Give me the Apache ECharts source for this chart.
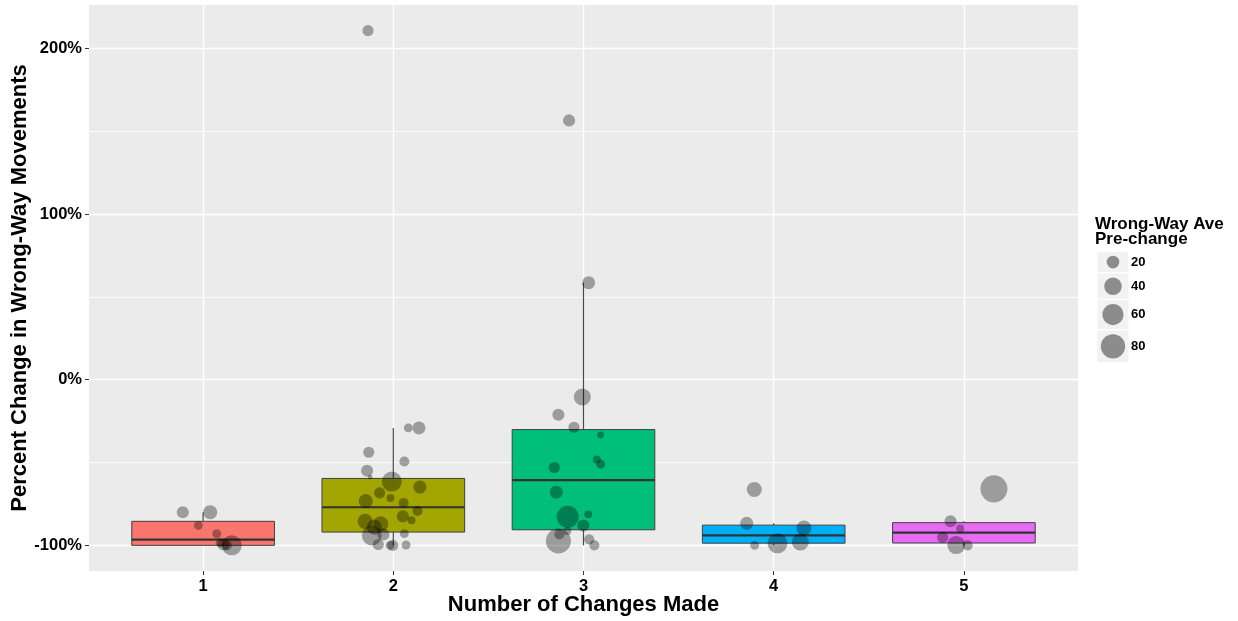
<!DOCTYPE html>
<html><head><meta charset="utf-8">
<script src="https://cdn.jsdelivr.net/npm/echarts@6/dist/echarts.min.js"></script>
<style>html,body{margin:0;padding:0;background:#fff}#c{width:1238px;height:621px}</style>
</head><body><div id="c"></div>
<script>
// ---- data ----
const categories = ['1', '2', '3', '4', '5'];
const yTickLabels = [-100, 0, 100, 200];
const yMinorTicks = [-50, 50, 150];
// box statistics (percent change)
const boxLow  = [-100, -100, -100, -100, -100];
const boxQ1   = [-100, -92, -90.6, -98.7, -98.6];
const boxMed  = [-96.5, -77, -60.6, -94, -92.3];
const boxQ3   = [-85.5, -59.6, -30.1, -87.8, -86.3];
const boxHigh = [-80, -29.1, 58.6, -86.7, -85.5];
// jittered points: x position, percent change, wrong-way average pre-change
const ptX = [
  0.893, 1.037, 0.975, 1.072, 1.090, 1.107, 1.125, 1.151,
  1.867, 2.079, 2.135, 1.871, 2.058, 1.862, 1.878, 1.992, 2.140, 1.928, 1.985, 1.855, 2.054,
  2.127, 2.050, 2.096, 1.852, 1.934, 1.900, 1.887, 1.948, 2.058, 1.921, 1.983, 1.997, 2.067,
  2.924, 3.027, 2.994, 2.868, 2.950, 3.090, 3.070, 3.090, 2.847, 2.857, 2.917, 3.025, 2.999,
  2.915, 2.873, 2.868, 3.030, 3.057,
  3.898, 3.858, 4.159, 3.900, 4.020, 4.140,
  5.158, 4.930, 4.980, 4.888, 4.960, 5.020
];
const ptPct = [
  -80, -80, -88, -93, -98.5, -99.5, -100, -100,
  210.8, -29.1, -29.1, -43.8, -49.4, -55, -58.8, -61.5, -64.8, -68.3, -71.4, -73.3, -74.4,
  -79.2, -82.5, -84.8, -85.5, -87, -89, -94, -93.4, -92.9, -99.5, -100, -100, -99.8,
  156.6, 58.6, -10.4, -21.1, -28.7, -33.3, -48.2, -51, -53, -67.9, -82.7, -81.3, -88,
  -91.4, -93.4, -97.4, -96.4, -100,
  -66.3, -86.7, -89.6, -100, -98.8, -98,
  -65.9, -85.5, -89.8, -95.2, -99.8, -100
];
const ptAve = [
  18, 25, 9, 9, 9, 18, 12, 53,
  15, 9, 21, 15, 12, 18, 2, 53, 21, 15, 7, 25, 12,
  12, 18, 7, 29, 29, 29, 53, 18, 9, 15, 9, 15, 9,
  18, 21, 38, 18, 15, 5, 7, 9, 15, 21, 65, 7, 18,
  7, 12, 85, 12, 12,
  29, 21, 29, 9, 53, 38,
  100, 18, 7, 15, 43, 12
];
const legendValues = [20, 40, 60, 80];

// ---- styling ----
const FONT = "'Liberation Sans', Arial, sans-serif";
const boxColors = ['#F8766D', '#A3A500', '#00BF7D', '#00B0F6', '#E76BF3'];
const ptColor = 'rgba(0,0,0,0.42)';
const sizeFn = w => 1.1 + 2.594 * Math.sqrt(w);

const boxData = categories.map((c, i) => [i + 1, boxLow[i], boxQ1[i], boxMed[i], boxQ3[i], boxHigh[i]]);
const ptData = ptX.map((x, i) => [x, ptPct[i], ptAve[i]]);

function renderBox(params, api) {
  const x = api.value(0), lo = api.value(1), q1 = api.value(2), med = api.value(3), q3 = api.value(4), hi = api.value(5);
  const half = 0.375;
  const tl = api.coord([x - half, q3]);
  const br = api.coord([x + half, q1]);
  const ml = api.coord([x - half, med]), mr = api.coord([x + half, med]);
  const pq3 = api.coord([x, q3]), ph = api.coord([x, hi]), pq1 = api.coord([x, q1]), pl = api.coord([x, lo]);
  const color = boxColors[params.dataIndex];
  const wStyle = { stroke: '#4a4a4a', lineWidth: 1.2 };
  return {
    type: 'group', children: [
      { type: 'line', shape: { x1: pq3[0], y1: pq3[1], x2: ph[0], y2: ph[1] }, style: wStyle },
      { type: 'line', shape: { x1: pq1[0], y1: pq1[1], x2: pl[0], y2: pl[1] }, style: wStyle },
      { type: 'rect', shape: { x: tl[0], y: tl[1], width: br[0] - tl[0], height: br[1] - tl[1] },
        style: { fill: color, stroke: '#404040', lineWidth: 1 } },
      { type: 'line', shape: { x1: ml[0], y1: ml[1], x2: mr[0], y2: mr[1] }, style: { stroke: '#333', lineWidth: 2.2 } }
    ]
  };
}

// legend graphics
const legendGraphics = [
  { type: 'text', left: 1095, top: 216, style: { text: 'Wrong-Way Ave', font: 'bold 17px ' + FONT, fill: '#000' } },
  { type: 'text', left: 1095, top: 231, style: { text: 'Pre-change', font: 'bold 17px ' + FONT, fill: '#000' } }
];
let ky = 252;
legendValues.forEach(v => {
  const d = sizeFn(v);
  const h = d + 7.5;
  legendGraphics.push({ type: 'rect', shape: { x: 1097.5, y: ky, width: 31, height: h }, style: { fill: '#F2F2F2' } });
  legendGraphics.push({ type: 'circle', shape: { cx: 1113, cy: ky + h / 2, r: d / 2 }, style: { fill: ptColor } });
  legendGraphics.push({ type: 'text', x: 1131, y: ky + h / 2, style: { text: String(v), font: 'bold 13px ' + FONT, fill: '#000', textVerticalAlign: 'middle' } });
  ky += h + 1.5;
});

const chart = echarts.init(document.getElementById('c'));
chart.setOption({
  animation: false,
  backgroundColor: '#fff',
  textStyle: { fontFamily: FONT },
  grid: { left: 89, right: 160, top: 5, bottom: 50, show: true, backgroundColor: '#EBEBEB', borderWidth: 0,
    containLabel: false, outerBoundsMode: 'none' },
  xAxis: {
    type: 'value', min: 0.4, max: 5.6,
    name: 'Number of Changes Made', nameLocation: 'middle', nameGap: 23, nameMoveOverlap: false,
    nameTextStyle: { fontSize: 22, fontWeight: 'bold', color: '#000', fontFamily: FONT },
    axisLine: { show: false, onZero: false },
    axisTick: { show: true, length: 4, lineStyle: { color: '#333' }, customValues: [1, 2, 3, 4, 5] },
    axisLabel: { customValues: [1, 2, 3, 4, 5], formatter: v => categories[Math.round(v) - 1],
      fontSize: 16.5, fontWeight: 'bold', color: '#000', margin: 7, fontFamily: FONT },
    splitLine: { show: true, lineStyle: { color: '#fff', width: 1.4 } }
  },
  yAxis: [{
    type: 'value', min: -115.5, max: 226.3,
    name: 'Percent Change in Wrong-Way Movements', nameLocation: 'middle', nameGap: 58, nameRotate: 90, nameMoveOverlap: false,
    nameTextStyle: { fontSize: 22, fontWeight: 'bold', color: '#000', fontFamily: FONT },
    axisLine: { show: false, onZero: false },
    axisTick: { show: true, length: 4, lineStyle: { color: '#333' }, customValues: yTickLabels },
    axisLabel: { customValues: yTickLabels, formatter: v => v + '%', fontSize: 16.5, fontWeight: 'bold', color: '#000', margin: 7, fontFamily: FONT },
    splitLine: { show: true, lineStyle: { color: '#fff', width: 1.4 } }
  }, {
    type: 'value', min: -115.5, max: 226.3, position: 'left',
    axisLine: { show: false, onZero: false },
    axisTick: { show: false, customValues: yMinorTicks },
    axisLabel: { show: false, customValues: yMinorTicks },
    splitLine: { show: true, lineStyle: { color: '#fff', width: 0.8 } }
  }],
  series: [{
    type: 'custom', renderItem: renderBox, data: boxData, z: 2,
    encode: { x: 0, y: [1, 2, 3, 4, 5] }, xAxisIndex: 0, yAxisIndex: 0, silent: true
  }, {
    type: 'scatter', data: ptData, z: 3, xAxisIndex: 0, yAxisIndex: 0,
    symbol: 'circle', symbolSize: val => sizeFn(val[2]),
    itemStyle: { color: ptColor, borderWidth: 0 }, silent: true
  }],
  graphic: legendGraphics
});
</script>
</body></html>
